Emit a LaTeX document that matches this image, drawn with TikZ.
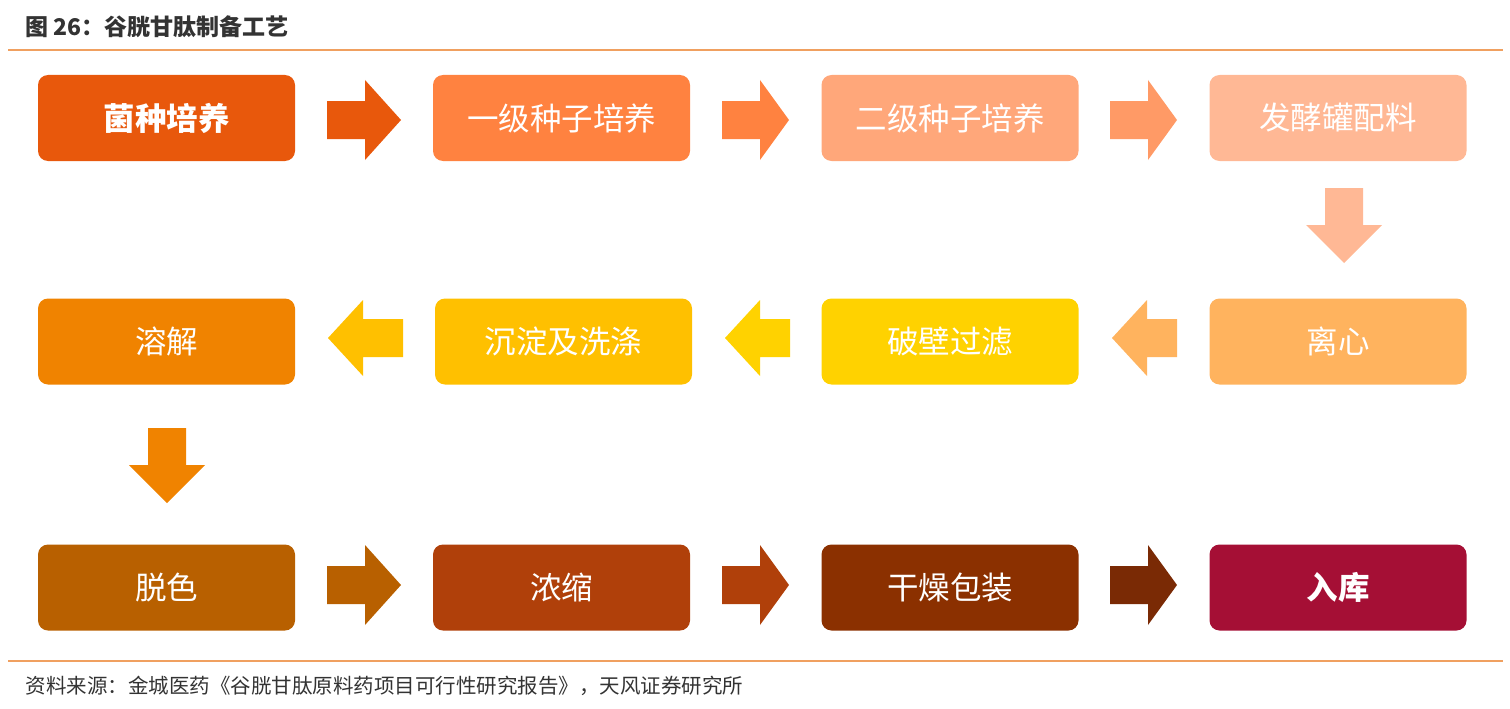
\documentclass[tikz,border=0pt]{standalone}
\usepackage{fontspec}
\setmainfont{Noto Sans CJK SC}
\definecolor{c1}{HTML}{E8580C}\definecolor{c2}{HTML}{FF8240}\definecolor{c3}{HTML}{FFA77A}
\definecolor{c4}{HTML}{FFB895}\definecolor{c5}{HTML}{FFB35E}\definecolor{c6}{HTML}{FFD200}
\definecolor{c7}{HTML}{FFC000}\definecolor{c8}{HTML}{F08300}\definecolor{c9}{HTML}{B86000}
\definecolor{c10}{HTML}{B0400A}\definecolor{c11}{HTML}{8B3000}\definecolor{c12}{HTML}{A50F35}
\definecolor{a3}{HTML}{FF9A66}\definecolor{a11}{HTML}{7A2A05}\definecolor{ln}{HTML}{F0A060}
\newcommand\rarr[4]{\fill[#4] (#1,#3-19)--(#1+38,#3-19)--(#1+38,#3-40)--(#2,#3)--(#1+38,#3+40)--(#1+38,#3+19)--(#1,#3+19)--cycle;}
\newcommand\larr[4]{\fill[#4] (#2,#3-19)--(#1+35,#3-19)--(#1+35,#3-38)--(#1,#3)--(#1+35,#3+38)--(#1+35,#3+19)--(#2,#3+19)--cycle;}
\newcommand\darr[4]{\fill[#4] (#3-19,#1)--(#3-19,#1+37)--(#3-38,#1+37)--(#3,#2)--(#3+38,#1+37)--(#3+19,#1+37)--(#3+19,#1)--cycle;}
\begin{document}
\begin{tikzpicture}[x=1pt,y=-1pt,
 box/.style={rounded corners=10pt,minimum width=257pt,minimum height=86pt,text=white,font=\fontsize{31.5}{33}\selectfont,inner sep=0pt}]
\useasboundingbox (0,0) rectangle (1510,709);
\node[anchor=west,font=\bfseries\fontsize{23}{25}\selectfont,text=black!80] (t) at (22,27) {图 26：谷胱甘肽制备工艺};
\draw[ln,line width=1.2pt] (8,50)--(1503,50);
\draw[ln,line width=1.2pt] (8,661)--(1503,661);
\node[anchor=west,font=\fontsize{20.5}{22}\selectfont,text=black!80] (s) at (22,686) {资料来源：金城医药《谷胱甘肽原料药项目可行性研究报告》，天风证券研究所};
\node[box,fill=c1,font=\bfseries\fontsize{31.5}{33}\selectfont] (b1) at (166.5,118) {菌种培养};
\node[box,fill=c2] (b2) at (561.5,118) {一级种子培养};
\node[box,fill=c3] (b3) at (950,118) {二级种子培养};
\node[box,fill=c4] (b4) at (1338,118) {发酵罐配料};
\node[box,fill=c5] (b5) at (1338,341.5) {离心};
\node[box,fill=c6] (b6) at (950,341.5) {破壁过滤};
\node[box,fill=c7] (b7) at (563.5,341.5) {沉淀及洗涤};
\node[box,fill=c8] (b8) at (166.5,341.5) {溶解};
\node[box,fill=c9] (b9) at (166.5,587.5) {脱色};
\node[box,fill=c10] (b10) at (561.5,587.5) {浓缩};
\node[box,fill=c11] (b11) at (950,587.5) {干燥包装};
\node[box,fill=c12,font=\bfseries\fontsize{31.5}{33}\selectfont] (b12) at (1338,587.5) {入库};
\rarr{327}{401}{120}{c1}
\rarr{722}{789}{120}{c2}
\rarr{1110}{1177}{120}{a3}
\darr{188}{263}{1344}{c4}
\larr{1112}{1177}{338}{c5}
\larr{725}{790}{338}{c6}
\larr{328}{403}{338}{c7}
\darr{428}{503}{167}{c8}
\rarr{327}{401}{585}{c9}
\rarr{722}{789}{585}{c10}
\rarr{1110}{1177}{585}{a11}
\end{tikzpicture}
\end{document}
